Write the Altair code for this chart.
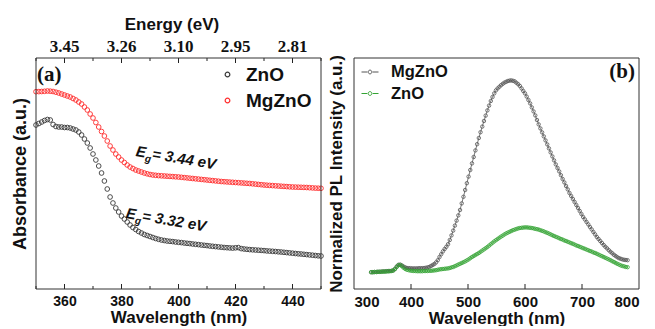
import altair as alt
import pandas as pd

# ---------------- data ----------------
ABS_WL = list(range(350, 451))
ABS_ZNO = [
    1.640, 1.655, 1.670, 1.685, 1.695, 1.690, 1.645, 1.625, 1.620, 1.620,
    1.615, 1.615, 1.610, 1.600, 1.590, 1.570, 1.540, 1.500, 1.460, 1.410,
    1.350, 1.290, 1.230, 1.160, 1.080, 1.000, 0.920, 0.860, 0.810, 0.770,
    0.730, 0.700, 0.670, 0.640, 0.615, 0.595, 0.575, 0.560, 0.545, 0.535,
    0.525, 0.515, 0.505, 0.497, 0.490, 0.485, 0.480, 0.477, 0.474, 0.470,
    0.467, 0.464, 0.460, 0.457, 0.454, 0.450, 0.447, 0.444, 0.440, 0.437,
    0.434, 0.430, 0.427, 0.424, 0.421, 0.418, 0.415, 0.413, 0.411, 0.409,
    0.412, 0.414, 0.404, 0.400, 0.397, 0.394, 0.392, 0.390, 0.388, 0.386,
    0.384, 0.381, 0.379, 0.377, 0.375, 0.372, 0.370, 0.367, 0.364, 0.361,
    0.358, 0.355, 0.352, 0.350, 0.347, 0.344, 0.341, 0.338, 0.335, 0.332,
    0.330,
]
ABS_MGZNO = [
    1.973, 1.974, 1.975, 1.977, 1.980, 1.978, 1.975, 1.968, 1.960, 1.950,
    1.940, 1.930, 1.920, 1.905, 1.890, 1.870, 1.850, 1.820, 1.790, 1.750,
    1.710, 1.665, 1.620, 1.575, 1.530, 1.480, 1.430, 1.390, 1.350, 1.320,
    1.290, 1.265, 1.240, 1.220, 1.205, 1.190, 1.180, 1.170, 1.160, 1.152,
    1.145, 1.140, 1.137, 1.134, 1.132, 1.130, 1.128, 1.126, 1.124, 1.122,
    1.120, 1.117, 1.114, 1.111, 1.108, 1.105, 1.102, 1.099, 1.096, 1.093,
    1.090, 1.087, 1.084, 1.081, 1.078, 1.075, 1.073, 1.071, 1.069, 1.067,
    1.065, 1.063, 1.061, 1.059, 1.057, 1.055, 1.052, 1.049, 1.046, 1.043,
    1.040, 1.038, 1.036, 1.034, 1.032, 1.030, 1.028, 1.026, 1.024, 1.022,
    1.020, 1.019, 1.018, 1.017, 1.016, 1.015, 1.013, 1.011, 1.009, 1.008,
    1.007,
]

PL_WL = list(range(330, 781, 3))
PL_MGZNO = [
    0.084, 0.084, 0.085, 0.085, 0.086, 0.086, 0.087, 0.088, 0.088, 0.089,
    0.090, 0.090, 0.091, 0.093, 0.101, 0.113, 0.121, 0.122, 0.118, 0.112,
    0.108, 0.105, 0.104, 0.104, 0.103, 0.103, 0.103, 0.103, 0.104, 0.104,
    0.104, 0.105, 0.106, 0.108, 0.110, 0.115, 0.120, 0.125, 0.133, 0.144,
    0.160, 0.174, 0.188, 0.200, 0.211, 0.224, 0.245, 0.268, 0.292, 0.317,
    0.342, 0.368, 0.395, 0.428, 0.461, 0.495, 0.529, 0.562, 0.595, 0.628,
    0.660, 0.693, 0.724, 0.755, 0.784, 0.812, 0.840, 0.867, 0.893, 0.917,
    0.940, 0.960, 0.978, 0.993, 1.003, 1.011, 1.019, 1.026, 1.032, 1.036,
    1.040, 1.042, 1.043, 1.041, 1.038, 1.031, 1.024, 1.015, 1.003, 0.990,
    0.978, 0.962, 0.945, 0.928, 0.908, 0.888, 0.868, 0.845, 0.823, 0.803,
    0.783, 0.763, 0.743, 0.723, 0.703, 0.683, 0.663, 0.643, 0.623, 0.605,
    0.588, 0.569, 0.550, 0.533, 0.515, 0.498, 0.480, 0.465, 0.450, 0.435,
    0.420, 0.405, 0.390, 0.375, 0.360, 0.348, 0.335, 0.323, 0.310, 0.298,
    0.285, 0.273, 0.260, 0.250, 0.240, 0.230, 0.220, 0.211, 0.203, 0.194,
    0.186, 0.179, 0.171, 0.165, 0.159, 0.154, 0.151, 0.148, 0.146, 0.145,
    0.144,
]
PL_ZNO = [
    0.084, 0.084, 0.085, 0.085, 0.086, 0.086, 0.086, 0.087, 0.087, 0.088,
    0.088, 0.089, 0.090, 0.093, 0.100, 0.110, 0.119, 0.120, 0.114, 0.106,
    0.100, 0.096, 0.094, 0.092, 0.091, 0.090, 0.090, 0.089, 0.089, 0.089,
    0.089, 0.090, 0.090, 0.090, 0.091, 0.091, 0.092, 0.093, 0.094, 0.096,
    0.098, 0.099, 0.100, 0.101, 0.102, 0.103, 0.105, 0.108, 0.110, 0.114,
    0.118, 0.122, 0.126, 0.130, 0.134, 0.138, 0.143, 0.148, 0.154, 0.160,
    0.165, 0.170, 0.175, 0.180, 0.186, 0.192, 0.198, 0.204, 0.210, 0.217,
    0.224, 0.231, 0.238, 0.244, 0.250, 0.256, 0.262, 0.267, 0.273, 0.278,
    0.282, 0.286, 0.290, 0.294, 0.297, 0.300, 0.303, 0.305, 0.306, 0.307,
    0.308, 0.308, 0.307, 0.306, 0.305, 0.303, 0.301, 0.299, 0.297, 0.294,
    0.291, 0.288, 0.284, 0.281, 0.277, 0.273, 0.269, 0.265, 0.261, 0.258,
    0.254, 0.250, 0.247, 0.243, 0.240, 0.236, 0.233, 0.229, 0.226, 0.222,
    0.218, 0.215, 0.211, 0.208, 0.204, 0.201, 0.197, 0.194, 0.190, 0.187,
    0.183, 0.180, 0.176, 0.172, 0.168, 0.164, 0.160, 0.156, 0.152, 0.148,
    0.144, 0.139, 0.135, 0.130, 0.126, 0.122, 0.118, 0.115, 0.113, 0.110,
    0.109,
]

LEFT_SERIES = ["ZnO", "MgZnO"]
RIGHT_SERIES = ["MgZnO", "ZnO"]
LEFT_DOMAIN = [350, 450]
RIGHT_DOMAIN = [300, 800]
LEFT_MAJOR = [360, 380, 400, 420, 440]
LEFT_MINOR = [350, 370, 390, 410, 430, 450]
ENERGY_TICK_NM = [360, 380, 400, 420, 440]
ENERGY_LABELS = ["3.45", "3.26", "3.10", "2.95", "2.81"]
RIGHT_LABELS = [300, 400, 500, 600, 700, 800]
RIGHT_MAJOR = [400, 500, 600, 700]
EG_VALUES = ["3.44", "3.32"]
EG_WL = [384.8, 381.3]
EG_A = [1.33, 0.71]

# ---------------- styling ----------------
SANS = "Liberation Sans"
SERIF = "Liberation Serif"
INK = "#111111"
FRAME = "#333333"
W, H = 285, 231

abs_df = pd.DataFrame({
    "wl": ABS_WL + ABS_WL,
    "a": ABS_ZNO + ABS_MGZNO,
    "s": [LEFT_SERIES[0]] * len(ABS_WL) + [LEFT_SERIES[1]] * len(ABS_WL),
})
pl_df = pd.DataFrame({
    "wl": PL_WL + PL_WL,
    "v": PL_MGZNO + PL_ZNO,
    "s": [RIGHT_SERIES[0]] * len(PL_WL) + [RIGHT_SERIES[1]] * len(PL_WL),
})
eg_df = pd.DataFrame({
    "wl": EG_WL, "a": EG_A,
    "rest": ["= " + v + " eV" for v in EG_VALUES],
})
energy_df = pd.DataFrame({"wl": ENERGY_TICK_NM, "lab": ENERGY_LABELS})

xL_scale = alt.Scale(domain=LEFT_DOMAIN, nice=False, zero=False)
yL_scale = alt.Scale(domain=[0, 2.31], nice=False, zero=False)
xR_scale = alt.Scale(domain=RIGHT_DOMAIN, nice=False, zero=False)
yR_scale = alt.Scale(domain=[0, 1.155], nice=False, zero=False)

bottom_axis_common = dict(
    labelFont=SANS, labelFontWeight="bold", labelColor=INK,
    labelPadding=5, titleFont=SANS, titleFontSize=17, titleFontWeight="bold",
    titleColor=INK, titlePadding=1, ticks=False, domain=False, grid=False,
)
xL_axis = alt.Axis(values=LEFT_MAJOR, title="Wavelength (nm)", labelFontSize=14, **bottom_axis_common)
xR_axis = alt.Axis(values=RIGHT_LABELS, title="Wavelength (nm)", labelFontSize=15, **bottom_axis_common)
yL_axis = alt.Axis(title="Absorbance (a.u.)", labels=False, ticks=False, domain=False, grid=False,
                   titleFont=SANS, titleFontSize=18, titleFontWeight="bold", titleColor=INK,
                   titlePadding=7)
yR_axis = alt.Axis(title="Normalized PL Intensity (a.u.)", labels=False, ticks=False, domain=False,
                   grid=False, titleFont=SANS, titleFontSize=17, titleLimit=400,
                   titleFontWeight="bold", titleColor=INK, titlePadding=9)

def xl(field="wl"):
    return alt.X(f"{field}:Q", scale=xL_scale, axis=xL_axis)

def yl(field="a"):
    return alt.Y(f"{field}:Q", scale=yL_scale, axis=yL_axis)

def xr(field="wl"):
    return alt.X(f"{field}:Q", scale=xR_scale, axis=xR_axis)

def yr(field="v"):
    return alt.Y(f"{field}:Q", scale=yR_scale, axis=yR_axis)

def frame_layers(domain, xfun):
    """Plot frame drawn with field-based rules at the scale's domain ends."""
    style = dict(color=FRAME, strokeWidth=1)
    horiz = pd.DataFrame({"wl": [domain[0]], "wl2": [domain[1]]})
    vert = pd.DataFrame({"wl": domain})
    return [
        alt.Chart(horiz).mark_rule(**style).encode(x=xfun(), x2="wl2:Q", y=alt.value(0)),
        alt.Chart(horiz).mark_rule(**style).encode(x=xfun(), x2="wl2:Q", y=alt.value(H)),
        alt.Chart(vert).mark_rule(**style).encode(x=xfun(), y=alt.value(0), y2=alt.value(H)),
    ]

# ---------------- left panel ----------------
left_points = alt.Chart(abs_df).mark_point(
    shape="circle", filled=False, size=22, strokeWidth=0.9, opacity=1
).encode(
    x=xl(), y=yl(),
    color=alt.Color("s:N", scale=alt.Scale(domain=LEFT_SERIES, range=["#3a3a3a", "#ff2d2d"]),
                    legend=alt.Legend(
                        title=None, orient="none", legendX=182, legendY=7, padding=0,
                        symbolType="circle", symbolSize=22, symbolStrokeWidth=1.2,
                        labelFont=SANS, labelFontSize=19, labelFontWeight="bold",
                        labelColor=INK, labelOffset=9, rowPadding=6)),
)

def tick_rules(values, y0, y1):
    return alt.Chart(pd.DataFrame({"wl": values})).mark_rule(color="#222", strokeWidth=1).encode(
        x=xl(), y=alt.value(y0), y2=alt.value(y1))

top_major = tick_rules(ENERGY_TICK_NM, 0, 5)
top_minor = tick_rules(LEFT_MINOR, 0, 3)
bot_major = tick_rules(LEFT_MAJOR, H, H - 5)
bot_minor = tick_rules(LEFT_MINOR, H, H - 3)

top_labels = alt.Chart(energy_df).mark_text(
    align="center", baseline="bottom", font=SERIF, fontSize=17, fontWeight="bold", color=INK
).encode(x=xl(), y=alt.value(-2), text="lab:N")
top_title = alt.Chart(pd.DataFrame({"lab": ["Energy (eV)"]})).mark_text(
    align="center", baseline="middle", font=SANS, fontSize=17, fontWeight="bold", color=INK
).encode(x=alt.value(136), y=alt.value(-33), text="lab:N")

eg_style = dict(align="left", baseline="alphabetic", angle=9.5, font=SANS,
                fontStyle="italic", fontWeight="bold", color=INK)
eg_E = alt.Chart(eg_df).mark_text(fontSize=15, **eg_style).encode(
    x=xl(), y=yl(), text=alt.value("E"))
eg_g = alt.Chart(eg_df).mark_text(fontSize=10, dx=10, dy=4, **eg_style).encode(
    x=xl(), y=yl(), text=alt.value("g"))
eg_rest = alt.Chart(eg_df).mark_text(fontSize=15, dx=16.5, **eg_style).encode(
    x=xl(), y=yl(), text="rest:N")

label_a = alt.Chart(pd.DataFrame({"lab": ["(a)"]})).mark_text(
    align="left", baseline="middle", font=SERIF, fontSize=21, fontWeight="bold", color=INK
).encode(x=alt.value(1), y=alt.value(17), text="lab:N")

left = alt.layer(
    left_points, top_major, top_minor, bot_major, bot_minor, top_labels, top_title,
    eg_E, eg_g, eg_rest, label_a, *frame_layers(LEFT_DOMAIN, xl)
).properties(width=W, height=H)

# ---------------- right panel ----------------
legend_path = "M-1,0L-0.32,0M0.32,0L1,0M0.22,0A0.22,0.22,0,1,1,-0.22,0A0.22,0.22,0,1,1,0.22,0"
right_legend = alt.Legend(
    title=None, orient="none", legendX=7, legendY=5, padding=0,
    symbolType=legend_path, symbolSize=289, symbolStrokeWidth=1,
    labelFont=SANS, labelFontSize=16.5, labelFontWeight="bold", labelColor=INK,
    labelOffset=12, rowPadding=3.5)
right_color = alt.Color("s:N", scale=alt.Scale(domain=RIGHT_SERIES, range=["#555555", "#34a334"]),
                        legend=right_legend)

right_points = alt.Chart(pl_df).mark_point(
    shape="circle", filled=False, size=12, strokeWidth=0.8, opacity=1
).encode(x=xr(), y=yr(), color=right_color)
right_line = alt.Chart(pl_df).mark_line(strokeWidth=0.8).encode(
    x=xr(), y=yr(), color=right_color, detail="s:N")
r_major = alt.Chart(pd.DataFrame({"wl": RIGHT_MAJOR})).mark_rule(color="#222", strokeWidth=1).encode(
    x=xr(), y=alt.value(H), y2=alt.value(H - 5))
label_b = alt.Chart(pd.DataFrame({"lab": ["(b)"]})).mark_text(
    align="right", baseline="middle", font=SERIF, fontSize=21, fontWeight="bold", color=INK
).encode(x=alt.value(281), y=alt.value(14), text="lab:N")

right = alt.layer(
    right_points, right_line, r_major, label_b, *frame_layers(RIGHT_DOMAIN, xr)
).properties(width=W, height=H)

chart = alt.hconcat(left, right, spacing=0).resolve_scale(
    color="independent"
).properties(
    padding={"left": 11, "top": 16, "right": 0, "bottom": 0},
    background="white",
).configure_view(
    stroke="transparent", strokeWidth=0
)

chart.save("out.html", embed_options={"renderer": "svg", "actions": False})
